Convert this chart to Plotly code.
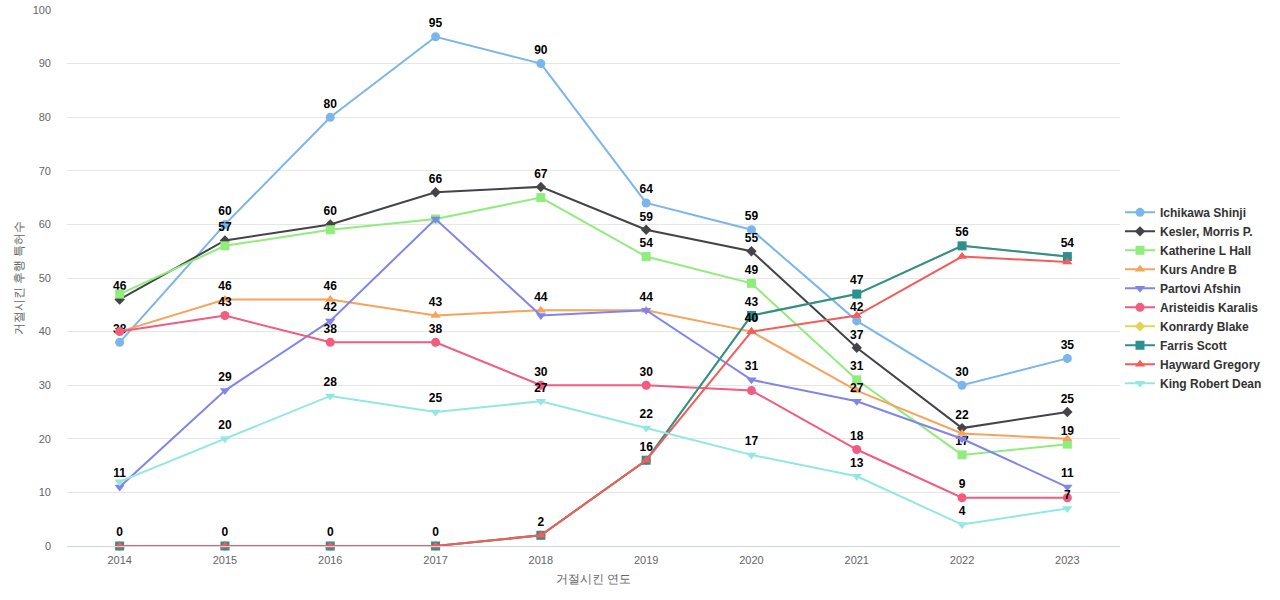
import plotly.graph_objects as go

years = ["2014", "2015", "2016", "2017", "2018", "2019", "2020", "2021", "2022", "2023"]

ichikawa = [38, 60, 80, 95, 90, 64, 59, 42, 30, 35]
kesler = [46, 57, 60, 66, 67, 59, 55, 37, 22, 25]
katherine = [47, 56, 59, 61, 65, 54, 49, 31, 17, 19]
kurs = [40, 46, 46, 43, 44, 44, 40, 29, 21, 20]
partovi = [11, 29, 42, 61, 43, 44, 31, 27, 20, 11]
aristeidis = [40, 43, 38, 38, 30, 30, 29, 18, 9, 9]
konrardy = [0, 0, 0, 0, 2, 16, 43, 47, 56, 54]
farris = [0, 0, 0, 0, 2, 16, 43, 47, 56, 54]
hayward = [0, 0, 0, 0, 2, 16, 40, 43, 54, 53]
king = [12, 20, 28, 25, 27, 22, 17, 13, 4, 7]

# indices of data labels hidden because they overlap others
series = [
    ("Ichikawa Shinji", ichikawa, "#7cb5ec", "circle", []),
    ("Kesler, Morris P.", kesler, "#434348", "diamond", []),
    ("Katherine L Hall", katherine, "#90ed7d", "square", [0, 1, 2, 3, 4]),
    ("Kurs Andre B", kurs, "#f7a35c", "triangle-up", [0, 5, 7, 8, 9]),
    ("Partovi Afshin", partovi, "#8085e9", "triangle-down", [3, 4, 8]),
    ("Aristeidis Karalis", aristeidis, "#f15c80", "circle", [0, 6, 9]),
    ("Konrardy Blake", konrardy, "#e4d354", "diamond", list(range(10))),
    ("Farris Scott", farris, "#2b908f", "square", []),
    ("Hayward Gregory", hayward, "#f45b5b", "triangle-up", [0, 1, 2, 3, 4, 5, 7, 8, 9]),
    ("King Robert Dean", king, "#91e8e1", "triangle-down", [0]),
]

fig = go.Figure()
for name, vals, color, sym, hidden in series:
    texts = ["" if i in hidden else str(v) for i, v in enumerate(vals)]
    msize = 8 if sym == "diamond" else 9
    fig.add_trace(go.Scatter(
        x=years, y=vals, name=name, mode="lines+markers+text",
        line=dict(color=color, width=2),
        marker=dict(symbol=sym, size=msize, color=color),
        text=texts, textposition="top center",
        textfont=dict(family="Liberation Sans, Arial, sans-serif", size=12, color="#000000", weight="bold"),
        cliponaxis=False,
    ))

fig.update_layout(
    width=1280, height=600,
    margin=dict(l=67, r=160, t=10, b=54, autoexpand=False),
    paper_bgcolor="white", plot_bgcolor="white",
    font=dict(family="Liberation Sans, Arial, sans-serif", color="#666666"),
    showlegend=True,
    legend=dict(
        x=1.0, xanchor="left", y=0.463, yanchor="middle",
        font=dict(size=12, color="#333333", weight="bold"),
        tracegroupgap=0, itemwidth=30,
    ),
    xaxis=dict(
        type="category", range=[-0.5, 9.5], automargin=False,
        showgrid=False, showline=True, linecolor="#ccd6eb", linewidth=1,
        tickfont=dict(size=11, color="#666666"),
        ticks="", ticklabelstandoff=4,
        title=dict(text="거절시킨 연도", font=dict(size=12, color="#666666"), standoff=9),
    ),
    yaxis=dict(
        range=[0, 100], dtick=10, automargin=False,
        showgrid=True, gridcolor="#e6e6e6", zeroline=False, showline=False,
        tickfont=dict(size=11, color="#666666"),
        ticks="", ticklabelstandoff=15, ticklabeloverflow="allow",
        title=dict(text="거절시킨 후행 특허수", font=dict(size=12, color="#666666"), standoff=6),
    ),
)

fig.write_html("out.html", config={"displayModeBar": False},
               post_script="document.body.style.margin='0px';")
